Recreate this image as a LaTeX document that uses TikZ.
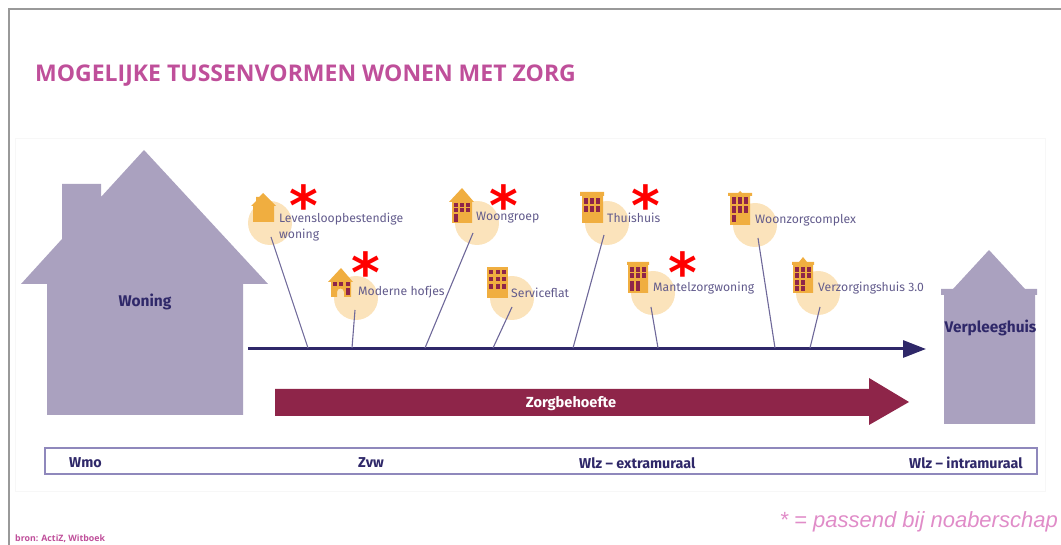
\documentclass[tikz,border=0pt]{standalone}
\usepackage{fontspec}
\setmainfont{Fira Sans}
\newfontfamily\titlefont{Open Sans}
\newfontfamily\notefont{Liberation Sans}
\newfontfamily\starfont{DejaVu Sans}
\usetikzlibrary{arrows.meta}
\definecolor{titlepink}{HTML}{BF4F9A}
\definecolor{notepink}{HTML}{E08CC8}
\definecolor{navy}{HTML}{2F2869}
\definecolor{lilac}{HTML}{AAA1BF}
\definecolor{labelgrey}{HTML}{625B8C}
\definecolor{halofill}{HTML}{FBE3BB}
\definecolor{iconfill}{HTML}{F0AE40}
\definecolor{maroon}{HTML}{8E2549}
\definecolor{stemcol}{HTML}{6E6899}
\definecolor{boxcol}{HTML}{8F88BC}
\tikzset{
    halo/.style={circle, fill=halofill, minimum size=44, inner sep=0},
    lbl/.style={anchor=west, inner sep=0, text=labelgrey, font=\fontsize{12.2}{13}\selectfont, align=left},
    strong/.style={inner sep=0, text=navy, font=\fontsize{14.3}{16}\selectfont\bfseries},
    stem/.style={draw=stemcol, line width=1.1},
    star/.style={anchor=base, inner sep=0, text=red, font=\fontsize{55}{55}\selectfont\starfont\bfseries},
    icon/.style={fill=iconfill},
    window/.style={fill=maroon},
}
\newcommand{\winrow}[3]{\foreach \wx in {#3} \fill[window] (\wx,#1) rectangle ++(4,#2);}
\begin{document}
\begin{tikzpicture}[x=1pt, y=-1pt]
    \useasboundingbox (0,0) rectangle (1061,545);

    % Draw frame and title
    \coordinate (framea) at (9,545);
    \coordinate (frameb) at (9,9);
    \coordinate (framec) at (1061,9);
    \draw[black!40, line width=1.2] (framea) -- (frameb) -- (framec);
    \draw[black!3, line width=0.6] (15,138) rectangle (1045,491);
    \node[anchor=base west, inner sep=0, text=titlepink, font=\fontsize{23}{26}\selectfont\titlefont\bfseries] (title) at (35,82) {MOGELIJKE TUSSENVORMEN WONEN MET ZORG};

    % Draw the two big houses
    \fill[lilac] (144,150) -- (268,284) -- (243,284) -- (243,415) -- (47,415) -- (47,284) -- (21,284)
        -- (62,239) -- (62,184) -- (101,184) -- (101,197) -- cycle;
    \fill[lilac] (989,250) -- (1025,289) -- (1037,289) -- (1037,295) -- (1035,295) -- (1035,424) -- (944,424)
        -- (944,295) -- (941,295) -- (941,289) -- (953,289) -- cycle;
    \node[strong, font=\fontsize{15.5}{18}\selectfont\bfseries] (woning) at (145,302) {Woning};
    \node[strong, font=\fontsize{15.4}{18}\selectfont\bfseries] (verpleeg) at (990.5,328) {Verpleeghuis};

    % Draw circles
    \node[halo] (levens) at (270,223) {};
    \node[halo] (hofjes) at (356,298) {};
    \node[halo] (groep) at (477,223) {};
    \node[halo] (flat) at (512,298) {};
    \node[halo] (thuis) at (607,223) {};
    \node[halo] (mantel) at (653,293) {};
    \node[halo] (complex) at (755,225) {};
    \node[halo] (verzorg) at (818,293) {};

    % Draw timeline
    \coordinate (linestart) at (248,349);
    \coordinate (lineend) at (926,349);
    \draw[navy, line width=3, -{Triangle[length=23, width=17]}] (linestart) -- (lineend);

    % Draw stems
    \coordinate (levenstop) at (271,237);
    \coordinate (hofjestop) at (355,310);
    \coordinate (groeptop) at (473,233);
    \coordinate (flattop) at (512,307);
    \coordinate (thuistop) at (604,235);
    \coordinate (manteltop) at (651,307);
    \coordinate (complextop) at (758,238);
    \coordinate (verzorgtop) at (820,307);
    \coordinate (levensfoot) at (308,348);
    \coordinate (hofjesfoot) at (352,348);
    \coordinate (groepfoot) at (425,348);
    \coordinate (flatfoot) at (493,348);
    \coordinate (thuisfoot) at (573,348);
    \coordinate (mantelfoot) at (658,348);
    \coordinate (complexfoot) at (775,348);
    \coordinate (verzorgfoot) at (810,348);
    \draw[stem] (levenstop) -- (levensfoot);
    \draw[stem] (hofjestop) -- (hofjesfoot);
    \draw[stem] (groeptop) -- (groepfoot);
    \draw[stem] (flattop) -- (flatfoot);
    \draw[stem] (thuistop) -- (thuisfoot);
    \draw[stem] (manteltop) -- (mantelfoot);
    \draw[stem] (complextop) -- (complexfoot);
    \draw[stem] (verzorgtop) -- (verzorgfoot);

    % Draw icons
    \fill[icon] (251,206) -- (256,201) -- (256,197) -- (259,197) -- (263,193) -- (276,206) -- (274,206) -- (274,222) -- (253,222) -- (253,206) -- cycle;

    \fill[icon] (328,282) -- (341,268) -- (353,282) -- (351,282) -- (351,297) -- (344,297) -- (344,292) arc (0:-180:3.5) -- (337,297) -- (331,297) -- (331,282) -- cycle;
    \winrow{282.5}{3.5}{332.5,339,345.5}
    \fill[window] (345.5,288) rectangle (350,295);

    \fill[icon] (449,202) -- (462,188) -- (474,202) -- (472,202) -- (472,223) -- (452,223) -- (452,202) -- cycle;
    \winrow{203}{4}{454,460,466}
    \winrow{208.5}{4}{454,460,466}
    \fill[window] (454,214) rectangle (458,222);

    \fill[icon] (487,267) rectangle (508,298);
    \winrow{270}{4.5}{489,495.5,502}
    \winrow{277}{4.5}{489,495.5,502}
    \winrow{284.5}{4.5}{489,495.5,502}

    \fill[icon] (580,192) rectangle (604,196) (582,196) rectangle (603,223);
    \winrow{198}{6}{584,590,596}
    \winrow{206}{6}{584,590,596}

    \fill[icon] (627,262) rectangle (649,265) (628,265) rectangle (648,293);
    \winrow{267}{5}{630,636,642}
    \winrow{273}{5}{630,636,642}
    \winrow{281}{5}{630,636}
    \winrow{286.5}{5}{630,636}

    \fill[icon] (728,193) -- (738,193) -- (740,191) -- (742,193) -- (752,193) -- (752,196) -- (750,196) -- (750,225) -- (730,225) -- (730,196) -- (728,196) -- cycle;
    \winrow{197.5}{6.5}{732,738,744}
    \winrow{206}{7}{732,738,744}
    \fill[window] (732,215) rectangle (736,222);

    \fill[icon] (792,262) -- (799,262) -- (803,257) -- (807,262) -- (814,262) -- (814,265) -- (813,265) -- (813,293) -- (793,293) -- (793,265) -- (792,265) -- cycle;
    \winrow{267}{5}{795,801,807}
    \winrow{273}{5}{795,801,807}
    \winrow{280.5}{5}{795,801}
    \winrow{286.5}{5}{795,801}

    % Draw labels
    \node[lbl] (levenstxt) at (279,227) {Levensloopbestendige\\[3pt]woning};
    \node[lbl] (hofjestxt) at (358,292) {Moderne hofjes};
    \node[lbl] (groeptxt) at (476,218) {Woongroep};
    \node[lbl] (flattxt) at (511,293) {Serviceflat};
    \node[lbl] (thuistxt) at (607,218) {Thuishuis};
    \node[lbl] (manteltxt) at (653,288) {Mantelzorgwoning};
    \node[lbl] (complextxt) at (755,220) {Woonzorgcomplex};
    \node[lbl] (verzorgtxt) at (818,288) {Verzorgingshuis 3.0};

    % Draw red stars
    \node[star] (stara) at (304,226) {*};
    \node[star] (starb) at (366,293) {*};
    \node[star] (starc) at (504,226) {*};
    \node[star] (stard) at (646,226) {*};
    \node[star] (stare) at (683,293) {*};

    % Draw care arrow
    \fill[maroon] (275,389) -- (869,389) -- (869,378) -- (909,402) -- (869,425) -- (869,416) -- (275,416) -- cycle;
    \node[strong, text=white, font=\fontsize{14.6}{16}\selectfont\bfseries] (zorg) at (571,404) {Zorgbehoefte};

    % Draw funding bar
    \node[draw=boxcol, line width=1.3, fill=white, minimum width=992, minimum height=26, inner sep=0] (bar) at (541,461) {};
    \node[strong, anchor=west] (wmo) at (69,463) {Wmo};
    \node[strong, anchor=west] (zvw) at (358,463) {Zvw};
    \node[strong, anchor=west] (extra) at (579,463) {Wlz -- extramuraal};
    \node[strong, anchor=west] (intra) at (909,463) {Wlz -- intramuraal};

    % Draw footnotes
    \node[anchor=base east, inner sep=0, text=notepink, font=\fontsize{22}{26}\selectfont\notefont\itshape] (note) at (1058,527) {* = passend bij noaberschap};
    \node[anchor=base west, inner sep=0, text=titlepink, font=\fontsize{8.8}{11}\selectfont\titlefont\bfseries] (bron) at (15,541.5) {bron: ActiZ, Witboek};
\end{tikzpicture}
\end{document}
